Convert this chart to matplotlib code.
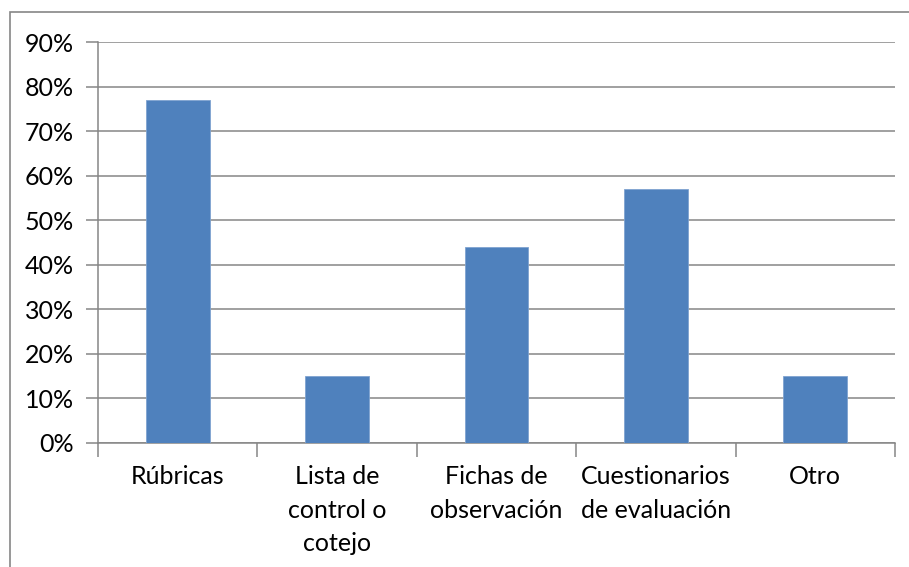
import numpy as np
import matplotlib.pyplot as plt
from matplotlib.patches import Rectangle
from matplotlib.ticker import FuncFormatter

categories = ['Rúbricas', 'Lista de\ncontrol o\ncotejo', 'Fichas de\nobservación',
              'Cuestionarios\nde evaluación', 'Otro']
values = [77, 15, 44, 57, 15]

plt.rcParams['font.family'] = ['Lato', 'DejaVu Sans']

fig = plt.figure(figsize=(9.09, 5.67), dpi=100)
ax = fig.add_axes([98 / 909, 1 - 443 / 567, (895 - 98) / 909, (443 - 42) / 567])

# outer chart border, as in Excel
fig.patches.append(Rectangle((10 / 909, -0.1), 2.0, 1.1 - 12 / 567, transform=fig.transFigure,
                             fill=False, edgecolor='#868686', linewidth=1.2))

x = np.arange(len(categories))
ax.bar(x, values, width=0.4, color='#4F81BD', edgecolor='#7FA3D0', linewidth=0.6, zorder=3)

ax.set_xlim(-0.5, len(categories) - 0.5)
ax.set_ylim(0, 90)
ax.set_yticks(np.arange(0, 91, 10))
ax.yaxis.set_major_formatter(FuncFormatter(lambda v, p: f'{v:.0f}%'))
ax.grid(axis='y', color='#868686', linewidth=1.1, zorder=0)

ax.set_xticks(np.arange(-0.5, len(categories), 1))
ax.set_xticklabels([])
ax.set_xticks(x, minor=True)
ax.set_xticklabels(categories, minor=True, linespacing=1.55)
ax.tick_params(axis='x', which='major', length=10, color='#868686', width=1.1)
ax.tick_params(axis='x', which='minor', length=0, pad=16, labelsize=18)
ax.tick_params(axis='y', length=9, color='#868686', width=1.1, pad=8.5, labelsize=18)

for s in ['top', 'right']:
    ax.spines[s].set_visible(False)
for s in ['left', 'bottom']:
    ax.spines[s].set_color('#868686')
    ax.spines[s].set_linewidth(1.1)

fig.savefig('out.png', dpi=100)
